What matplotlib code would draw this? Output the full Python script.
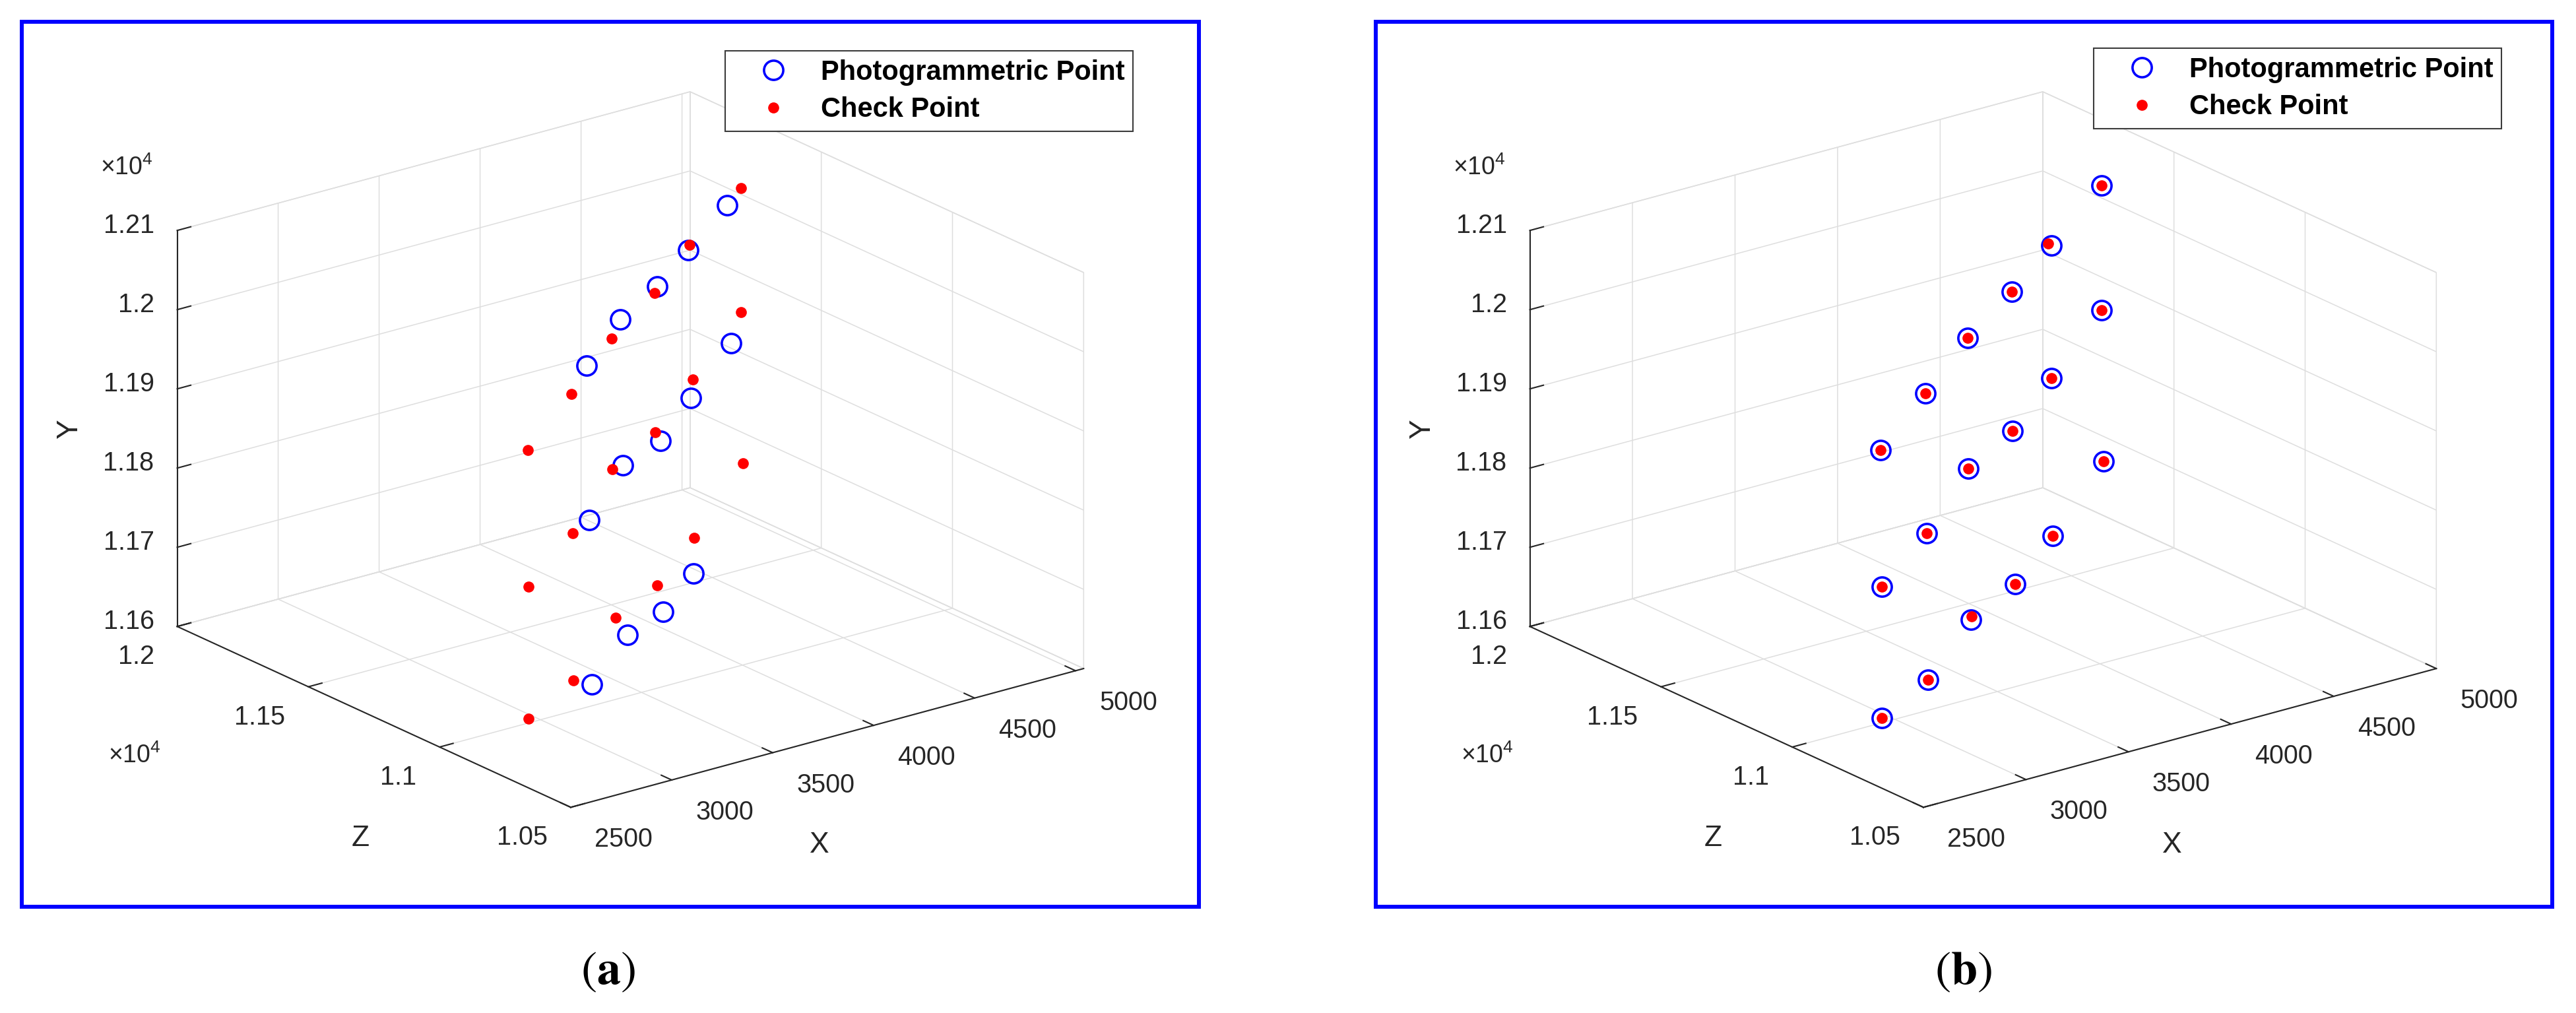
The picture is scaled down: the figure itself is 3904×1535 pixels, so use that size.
import numpy as np
import matplotlib
matplotlib.use("Agg")
import matplotlib.pyplot as plt
from matplotlib import transforms as mtransforms
from matplotlib.patches import Rectangle
from matplotlib.lines import Line2D

# ---------------- data ----------------
x_ticks = [2500, 3000, 3500, 4000, 4500, 5000]
x_ticklabels = ["2500", "3000", "3500", "4000", "4500", "5000"]
z_ticks = [10500, 11000, 11500, 12000]
z_ticklabels = ["1.05", "1.1", "1.15", "1.2"]
y_ticks = [11600, 11700, 11800, 11900, 12000, 12100]
y_ticklabels = ["1.16", "1.17", "1.18", "1.19", "1.2", "1.21"]
x_limits_a = [2500, 5040]
x_limits_b = [2500, 5000]
z_limits = [10500, 12000]
y_limits = [11600, 12100]

# check points (same in both panels)
check_X = [2536, 3023, 3476, 3956, 4349, 4922, 2548, 3036, 3483, 3963, 4386, 4927,
           2548, 3048, 3519, 3987, 4396, 4946]
check_Y = [12019, 12025, 12034, 12027, 12035, 12030, 11845, 11847, 11868, 11850, 11860, 11872,
           11679, 11660, 11676, 11654, 11659, 11679]
check_Z = [10692, 10901, 11095, 11301, 11470, 11716, 10697, 10906, 11098, 11304, 11486, 11718,
           10697, 10911, 11113, 11314, 11490, 11726]

# photogrammetric points, panel (a)
photo_a_X = [3186, 3558, 3964, 4308, 4740, 3209, 3581, 3992, 4332, 4774, 3236, 3627, 4024, 4360]
photo_a_Y = [12039, 12048, 12035, 12035, 12034, 11841, 11861, 11837, 11846, 11856, 11630, 11641, 11617, 11620]
photo_a_Z = [10968, 11125, 11298, 11444, 11629, 10976, 11133, 11306, 11452, 11640, 10987, 11152, 11321, 11464]

# photogrammetric points, panel (b)
photo_b_X = [2536, 3023, 3476, 3956, 4380, 4922, 2548, 3036, 3483, 3963, 4386, 4927,
             2548, 3048, 3512, 3987, 4396, 4946]
photo_b_Y = [12019, 12025, 12034, 12027, 12028, 12030, 11845, 11847, 11868, 11850, 11860, 11872,
             11679, 11660, 11673, 11654, 11659, 11679]
photo_b_Z = [10692, 10901, 11095, 11301, 11483, 11716, 10697, 10906, 11098, 11304, 11486, 11718,
             10697, 10911, 11110, 11314, 11490, 11726]

legend_labels = ["Photogrammetric Point", "Check Point"]
panel_captions = ["a", "b"]
axis_names = ["X", "Y", "Z"]

# ---------------- layout / style ----------------
W, H, DPI = 3904, 1535, 100
ELEV, AZIM = 20.64, -127.5
BOX = (1.0, 1.0, 0.6545)
FRONT = [(865.0, 1223.3), (2915.0, 1223.3)]
XEND = [(1642.3, 1015.0), (3692.3, 1015.0)]
PANEL_DX = [0, 2050]
FRAMES = [(33, 33, 1817, 1374), (2085, 33, 3868, 1374)]
LEGEND_TL = [(1099, 77), (3173, 73)]
CAPTION_X = [921, 2975]
GRID_C = "#dedede"
AX_C = "#262626"
BLUE = "#0000ff"
RED = "#ff0000"

plt.rcParams["font.family"] = ["Liberation Sans", "DejaVu Sans"]
plt.rcParams["mathtext.fontset"] = "custom"
plt.rcParams["mathtext.rm"] = "Liberation Sans"
plt.rcParams["mathtext.it"] = "Liberation Sans:italic"
plt.rcParams["mathtext.bf"] = "Liberation Sans:bold"
plt.rcParams["xtick.color"] = AX_C
plt.rcParams["ytick.color"] = AX_C
plt.rcParams["grid.color"] = GRID_C
plt.rcParams["grid.linewidth"] = 1.1

fig = plt.figure(figsize=(W / DPI, H / DPI), dpi=DPI)
fig.patch.set_facecolor("white")


def fx(px):
    return px / W


def fy(py):
    return 1.0 - py / H


def project(ax, x, y, z):
    M = ax.get_proj()
    v = M @ np.array([x, y, z, 1.0])
    return ax.transData.transform((v[0] / v[3], v[1] / v[3]))


def calibrate(ax, front, xend, xl):
    fig.canvas.draw()
    F = project(ax, xl[0], z_limits[0], y_limits[0])
    E = project(ax, xl[1], z_limits[0], y_limits[0])
    bb = ax.bbox
    k = (xend[0] - front[0]) / (E[0] - F[0])
    tx, ty = front[0], H - front[1]
    x0 = tx - k * (F[0] - bb.x0)
    y0 = ty - k * (F[1] - bb.y0)
    s = k * bb.width
    ax.set_position([x0 / W, y0 / H, s / W, s / H])


def set_lim(setter, lims):
    try:
        setter(lims[0], lims[1], view_margin=0)
    except TypeError:
        setter(lims[0], lims[1])


def build_panel(i, xl, pX, pY, pZ):
    ax = fig.add_axes([0.1, 0.1, 0.3, 0.3 * W / H], projection="3d", proj_type="ortho")
    ax.computed_zorder = False
    ax.patch.set_visible(False)
    ax.view_init(elev=ELEV, azim=AZIM)
    ax.set_box_aspect(BOX)
    set_lim(ax.set_xlim, xl)
    set_lim(ax.set_ylim, z_limits)
    set_lim(ax.set_zlim, y_limits)
    ax.set_xticks(x_ticks)
    ax.set_yticks(z_ticks)
    ax.set_zticks(y_ticks)
    ax.set_xticklabels([""] * len(x_ticks))
    ax.set_yticklabels([""] * len(z_ticks))
    ax.set_zticklabels([""] * len(y_ticks))
    ax.grid(True)
    for axis in (ax.xaxis, ax.yaxis, ax.zaxis):
        axis.set_pane_color((1, 1, 1, 1))
        axis.pane.set_edgecolor(GRID_C)
        axis.pane.set_linewidth(1.1)
        axis.line.set_color(AX_C)
        axis.line.set_linewidth(1.5)
        axis._axinfo["grid"]["color"] = GRID_C
        axis._axinfo["grid"]["linewidth"] = 1.1
        axis._axinfo["tick"]["inward_factor"] = 0.0
        axis._axinfo["tick"]["outward_factor"] = 0.33
        axis._axinfo["tick"]["linewidth"] = {True: 1.5, False: 1.0}

    ax.plot(pX, pZ, pY, ls="none", marker="o", ms=21, mfc="none", mec=BLUE, mew=2.6, zorder=4)
    ax.plot(check_X, check_Z, check_Y, ls="none", marker="o", ms=12, mfc=RED, mec=RED, mew=0,
            zorder=5)

    calibrate(ax, FRONT[i], XEND[i], xl)

    def off(dx, dy):
        return mtransforms.offset_copy(ax.transData, fig=fig, x=dx, y=dy, units="dots")

    tkw = dict(fontsize=28.5, color=AX_C, va="baseline")
    for v, lab in zip(x_ticks, x_ticklabels):
        ax.text(v, z_limits[0], y_limits[0], lab, ha="left", transform=off(36, -60), **tkw)
    for v, lab in zip(z_ticks, z_ticklabels):
        ax.text(xl[0], v, y_limits[0], lab, ha="right", transform=off(-35, -57), **tkw)
    for v, lab in zip(y_ticks, y_ticklabels):
        ax.text(xl[0], z_limits[1], v, lab, ha="right", transform=off(-35, -3.5), **tkw)

    dx = PANEL_DX[i]
    mkw = dict(fontsize=27, color=AX_C, ha="left", va="baseline")
    fig.text(fx(152 + dx), fy(265), r"$\times10^{4}$", **mkw)
    fig.text(fx(164 + dx), fy(1156), r"$\times10^{4}$", **mkw)

    lkw = dict(fontsize=32, color=AX_C, ha="center", va="center")
    fig.text(fx(1242 + dx), fy(1280), axis_names[0], **lkw)
    fig.text(fx(106 + dx), fy(650), axis_names[1], rotation=90, **lkw)
    fig.text(fx(546 + dx), fy(1270), axis_names[2], **lkw)

    h1 = Line2D([], [], ls="none", marker="o", ms=21, mfc="none", mec=BLUE, mew=2.6)
    h2 = Line2D([], [], ls="none", marker="o", ms=12, mfc=RED, mec=RED, mew=0)
    lx, ly = LEGEND_TL[i]
    leg = ax.legend([h1, h2], legend_labels, loc="upper left",
                    bbox_to_anchor=(fx(lx), fy(ly)), bbox_transform=fig.transFigure,
                    prop={"weight": "bold", "size": 30}, frameon=True, fancybox=False,
                    edgecolor="#3c3c3c", facecolor="white", framealpha=1,
                    borderpad=0.30, handlelength=2.9, handletextpad=0.27,
                    labelspacing=0.40, borderaxespad=0, numpoints=1)
    leg.get_frame().set_linewidth(1.5)

    x0, y0, x1, y1 = FRAMES[i]
    fig.patches.append(Rectangle((fx(x0), fy(y1)), (x1 - x0) / W, (y1 - y0) / H,
                                 transform=fig.transFigure, fill=False,
                                 edgecolor=BLUE, linewidth=4.3, zorder=10))
    fig.text(fx(CAPTION_X[i]), fy(1473), r"$(\mathbf{%s})$" % panel_captions[i],
             math_fontfamily="stix", fontsize=52, color="black", ha="center", va="center")
    return ax


build_panel(0, x_limits_a, photo_a_X, photo_a_Y, photo_a_Z)
build_panel(1, x_limits_b, photo_b_X, photo_b_Y, photo_b_Z)

fig.savefig("out.png", dpi=DPI, facecolor="white")
